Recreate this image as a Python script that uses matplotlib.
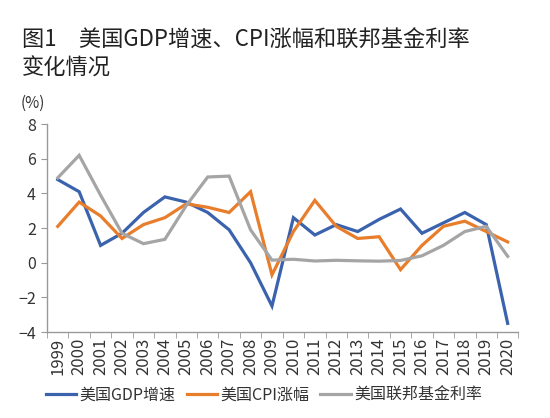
import numpy as np
import matplotlib
matplotlib.use('Agg')
import matplotlib.pyplot as plt
from matplotlib.ticker import FixedLocator

plt.rcParams['font.family'] = ['Noto Sans CJK SC', 'DejaVu Sans']

years = [str(y) for y in range(1999, 2021)]
gdp = [4.8, 4.1, 1.0, 1.7, 2.9, 3.8, 3.5, 2.9, 1.9, 0.0, -2.5,
       2.6, 1.6, 2.2, 1.8, 2.5, 3.1, 1.7, 2.3, 2.9, 2.2, -3.5]
cpi = [2.1, 3.5, 2.7, 1.4, 2.2, 2.6, 3.4, 3.2, 2.9, 4.1, -0.7,
       1.8, 3.6, 2.1, 1.4, 1.5, -0.4, 1.0, 2.1, 2.4, 1.8, 1.2]
fed = [4.9, 6.2, 3.9, 1.7, 1.1, 1.35, 3.3, 4.95, 5.0, 1.9, 0.15,
       0.2, 0.1, 0.14, 0.11, 0.09, 0.13, 0.4, 1.0, 1.8, 2.1, 0.37]
series_names = ['美国GDP增速', '美国CPI涨幅', '美国联邦基金利率']
colors = ['#3b63ad', '#e87d2b', '#a5a5a5']
yticks = [-4, -2, 0, 2, 4, 6, 8]

fig = plt.figure(figsize=(5.5, 4.18), dpi=100)
ax = fig.add_axes([0.0855, 0.2057, 0.857, 0.4973])
x = np.arange(len(years))
for vals, name, c in zip([gdp, cpi, fed], series_names, colors):
    ax.plot(x, vals, color=c, lw=2.3, label=name, solid_joinstyle='miter')

ax.set_xlim(-0.5, len(years) - 0.5)
ax.set_ylim(-4, 8)
ax.set_yticks(yticks)
ax.set_yticklabels([str(t).replace('-', '−') for t in yticks])
ax.set_xticks(x)
ax.set_xticklabels(years, rotation=90)
ax.xaxis.set_minor_locator(FixedLocator(np.arange(-0.5, len(years), 1)))
ax.tick_params(axis='x', which='major', length=0, pad=4, labelsize=12, labelcolor='#333333')
ax.tick_params(axis='x', which='minor', length=4, color='#999999', direction='out')
ax.tick_params(axis='y', length=4, color='#999999', labelsize=11.5, labelcolor='#333333', pad=4)
for s in ['top', 'right']:
    ax.spines[s].set_visible(False)
for s in ['left', 'bottom']:
    ax.spines[s].set_color('#999999')
    ax.spines[s].set_linewidth(1.0)

fig.text(0.04, 0.903, '图1　美国GDP增速、CPI涨幅和联邦基金利率', fontsize=16, color='#222222', va='center', weight='medium')
fig.text(0.04, 0.837, '变化情况', fontsize=16, color='#222222', va='center', weight='medium')
fig.text(0.038, 0.752, '(%)', fontsize=11, color='#333333', va='center')

fig.legend(loc='center', bbox_to_anchor=(0.48, 0.055), ncol=3, frameon=False,
           fontsize=11.5, handlelength=1.9, handletextpad=0.2, columnspacing=0.7,
           labelcolor='#333333')

fig.savefig('out.png', dpi=100)
